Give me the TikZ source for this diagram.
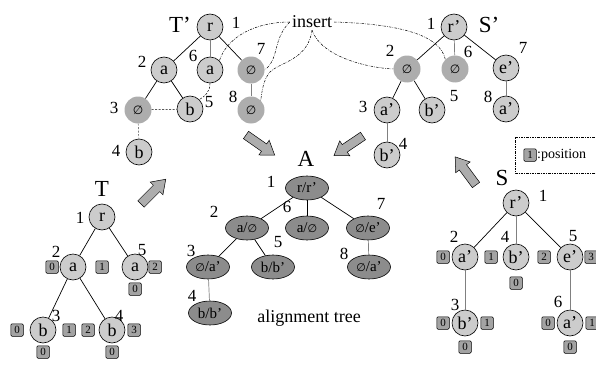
\documentclass[tikz,border=0pt]{standalone}
\usepackage{fontspec}
\setmainfont{Liberation Serif}
\newfontfamily\symfont{DejaVu Sans}
\usetikzlibrary{shapes.geometric}
\definecolor{lightdot}{gray}{0.80}
\definecolor{insdot}{gray}{0.68}
\definecolor{aligndot}{gray}{0.55}
\definecolor{boxdot}{gray}{0.64}
\definecolor{arrowdot}{gray}{0.68}

% empty-set sign used for inserted nodes
\newcommand\emp[1][12]{{\fontsize{#1}{#1}\selectfont\symfont ∅}}

% block arrow: tail point (x,y), direction angle on the page
\newcommand\blockarrow[3]{%
  \begin{scope}[shift={(#1,#2)},rotate=#3]
    \filldraw[fill=arrowdot,draw=black,line width=0.5pt]
      (0,-4.5) -- (22,-4.5) -- (22,-9) -- (35,0) -- (22,9) -- (22,4.5) -- (0,4.5) -- cycle;
  \end{scope}}

\begin{document}
\begin{tikzpicture}[x=1pt,y=-1pt,
  tnode/.style={circle,draw=black,line width=0.6pt,fill=lightdot,minimum size=26pt,
    inner sep=0pt,font=\fontsize{18}{18}\selectfont},
  inode/.style={circle,fill=insdot,minimum size=27pt,inner sep=0pt,
    font=\fontsize{18}{18}\selectfont},
  anode/.style={ellipse,draw=black,line width=0.6pt,fill=aligndot,minimum width=43pt,
    minimum height=24pt,inner sep=0pt,font=\fontsize{15}{15}\selectfont},
  pbox/.style={rectangle,draw=black,line width=0.5pt,fill=boxdot,minimum size=12.5pt,
    inner sep=0pt,rounded corners=1.2pt,font=\fontsize{11}{11}\selectfont},
  num/.style={font=\fontsize{17}{17}\selectfont,inner sep=0pt},
  big/.style={font=\fontsize{23}{23}\selectfont,inner sep=0pt},
  edge/.style={line width=0.7pt},
  gedge/.style={line width=0.7pt,gray},
  gdash/.style={line width=0.7pt,gray,dash pattern=on 2pt off 1.5pt},
  thindash/.style={line width=0.5pt,dash pattern=on 2pt off 1.5pt},
  insline/.style={line width=0.5pt,dash pattern=on 2.5pt off 1.2pt on 0.6pt off 1.2pt},
]
\useasboundingbox (0,0) rectangle (596,369);

% ---------- T' ----------
\node[big] (lTp) at (180,25) {T’};
\node[tnode] (tp1) at (210,27) {r};
\node[tnode] (tp2) at (164,70) {a};
\node[tnode] (tp6) at (210,70) {a};
\node[inode] (tp7) at (251,70) {\emp};
\node[inode] (tp3) at (138,110) {\emp};
\node[tnode] (tp5) at (190,109) {b};
\node[inode] (tp8) at (251,110) {\emp};
\node[tnode] (tp4) at (139,152) {b};
\node[num] at (236,23) {1};
\node[num] at (142,62) {2};
\node[num] at (193,56) {6};
\node[num] at (261,49) {7};
\node[num] at (114,108) {3};
\node[num] at (209,102) {5};
\node[num] at (233,97) {8};
\node[num] at (116,151) {4};
\draw[edge] (tp1) -- (tp2);
\draw[gedge] (tp1) -- (tp6);
\draw[edge] (tp1) -- (tp7);
\draw[edge] (tp2) -- (tp3);
\draw[edge] (tp2) -- (tp5);
\draw[gedge] (tp7) -- (tp8);
\draw[gdash] (tp3) -- (tp4);
\draw[thindash] (tp3) -- (tp5);
\draw[thindash] (tp6.south) .. controls (210,92) and (205,96) .. (tp5.north east);

% ---------- S' ----------
\node[big] (lSp) at (489,25) {S’};
\node[tnode] (sp1) at (454,27) {r’};
\node[inode] (sp2) at (407,69) {\emp};
\node[inode] (sp6) at (455,69) {\emp};
\node[tnode] (sp7) at (506,68) {e’};
\node[tnode] (sp3) at (387,110) {a’};
\node[tnode] (sp5) at (432,110) {b’};
\node[tnode] (sp8) at (506,109) {a’};
\node[tnode] (sp4) at (387,155) {b’};
\node[num] at (431,24) {1};
\node[num] at (390,51) {2};
\node[num] at (468,52) {6};
\node[num] at (523,48) {7};
\node[num] at (363,107) {3};
\node[num] at (454,96) {5};
\node[num] at (488,97) {8};
\node[num] at (403,144) {4};
\draw[edge] (sp1) -- (sp2);
\draw[gedge] (sp1) -- (sp6);
\draw[edge] (sp1) -- (sp7);
\draw[edge] (sp2) -- (sp3);
\draw[edge] (sp2) -- (sp5);
\draw[gedge] (sp3) -- (sp4);
\draw[gedge] (sp7) -- (sp8);

% ---------- insert ----------
\node[font=\fontsize{18}{18}\selectfont,inner sep=2pt] (ins) at (312,22) {insert};
\draw[insline] (ins.west) .. controls (258,22) and (228,35) .. (tp6.north east);
\draw[insline] (ins.west) .. controls (272,40) and (280,58) .. (tp7.east);
\draw[insline] (ins.south) .. controls (308,60) and (280,62) .. (270,72)
                          .. controls (263,80) and (262,92) .. (tp8.north east);
\draw[insline] (ins.south) .. controls (322,58) and (370,68) .. (sp2.west);
\draw[insline] (ins.east) .. controls (400,24) and (440,35) .. (sp6.north west);

% ---------- block arrows ----------
\blockarrow{141}{204}{45}
\blockarrow{246}{135}{-35}
\blockarrow{363}{136}{-146}
\blockarrow{476}{185}{126.5}

% ---------- alignment tree A ----------
\node[big] (lA) at (306,159) {A};
\node[anode] (a1) at (307,188) {r/r’};
\node[anode] (a2) at (247,228) {a/\emp[11]};
\node[anode] (a6) at (307,228) {a/\emp[11]};
\node[anode] (a7) at (368,228) {\emp[11]/e’};
\node[anode] (a3) at (208,267) {\emp[11]/a’};
\node[anode] (a5) at (273,267) {b/b’};
\node[anode] (a8) at (369,267) {\emp[11]/a’};
\node[anode] (a4) at (210,313) {b/b’};
\node[num] at (271,182) {1};
\node[num] at (214,212) {2};
\node[num] at (287,207) {6};
\node[num] at (381,204) {7};
\node[num] at (191,251) {3};
\node[num] at (278,242) {5};
\node[num] at (344,254) {8};
\node[num] at (192,296) {4};
\draw[edge] (a1) -- (a2);
\draw[edge] (a1) -- (a6);
\draw[edge] (a1) -- (a7);
\draw[edge] (a2) -- (a3);
\draw[edge] (a2) -- (a5);
\draw[gedge] (a7) -- (a8);
\draw[gedge] (a3) -- (a4);
\node[font=\fontsize{18}{18}\selectfont] (cap) at (309,318) {alignment tree};

% ---------- T ----------
\node[big] (lT) at (102,189) {T};
\node[tnode] (t1) at (102,217) {r};
\node[tnode] (t2) at (73,267) {a};
\node[tnode] (t5) at (135,267) {a};
\node[tnode] (t3) at (43,330) {b};
\node[tnode] (t4) at (112,330) {b};
\node[num] at (80,218) {1};
\node[num] at (56,252) {2};
\node[num] at (142,250) {5};
\node[num] at (56,316) {3};
\node[num] at (119,316) {4};
\draw[edge] (t1) -- (t2);
\draw[edge] (t1) -- (t5);
\draw[edge] (t2) -- (t3);
\draw[edge] (t2) -- (t4);
\node[pbox] at (52,267) {0};
\node[pbox] at (102,267) {1};
\node[pbox] at (155,267) {2};
\node[pbox] at (135,289) {0};
\node[pbox] at (17,330) {0};
\node[pbox] at (69,330) {1};
\node[pbox] at (43,352) {0};
\node[pbox] at (88,330) {2};
\node[pbox] at (134,330) {3};
\node[pbox] at (112,352) {0};

% ---------- S ----------
\node[big] (lS) at (502,178) {S};
\node[tnode] (s1) at (516,203) {r’};
\node[tnode] (s2) at (465,257) {a’};
\node[tnode] (s4) at (516,257) {b’};
\node[tnode] (s5) at (570,257) {e’};
\node[tnode] (s3) at (465,323) {b’};
\node[tnode] (s6) at (570,323) {a’};
\node[num] at (543,196) {1};
\node[num] at (454,237) {2};
\node[num] at (505,237) {4};
\node[num] at (573,236) {5};
\node[num] at (455,305) {3};
\node[num] at (558,302) {6};
\draw[edge] (s1) -- (s2);
\draw[gedge] (s1) -- (s4);
\draw[edge] (s1) -- (s5);
\draw[gedge] (s2) -- (s3);
\draw[gedge] (s5) -- (s6);
\node[pbox] at (443,257) {0};
\node[pbox] at (491,257) {1};
\node[pbox] at (544,257) {2};
\node[pbox] at (591,257) {3};
\node[pbox] at (516,283) {0};
\node[pbox] at (443,323) {0};
\node[pbox] at (487,323) {1};
\node[pbox] at (465,347) {0};
\node[pbox] at (548,323) {0};
\node[pbox] at (592,323) {1};
\node[pbox] at (570,347) {0};

% ---------- legend ----------
\draw[insline] (600,137) -- (515,137) -- (515,173) -- (600,173);
\node[pbox] (lg) at (530,155) {1};
\node[anchor=west,inner sep=0pt,font=\fontsize{14}{14}\selectfont] at (537,155) {:position};
\end{tikzpicture}
\end{document}
